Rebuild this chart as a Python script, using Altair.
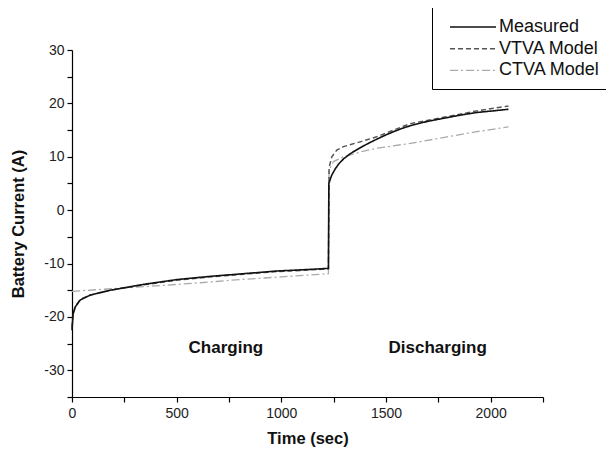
import altair as alt
import pandas as pd

# ---- data ----
meas_t = [0, 5, 16, 40, 88, 183, 342, 502, 661, 820, 979, 1138, 1225, 1227, 1240, 1257, 1275, 1297, 1330, 1377, 1415, 1456, 1500, 1536, 1575, 1615, 1695, 1774, 1854, 1934, 2013, 2085]
meas_v = [-22.5, -19.5, -18.1, -16.8, -15.9, -15.0, -13.9, -13.0, -12.4, -11.9, -11.4, -11.1, -10.9, 5.0, 6.5, 7.7, 8.7, 9.6, 10.6, 11.7, 12.5, 13.3, 14.1, 14.7, 15.3, 15.8, 16.6, 17.2, 17.8, 18.3, 18.6, 18.9]

vtva_t = [0, 5, 16, 40, 88, 183, 342, 502, 661, 820, 979, 1138, 1225, 1228, 1241, 1265, 1297, 1377, 1456, 1536, 1615, 1774, 1934, 2085]
vtva_v = [-22.0, -19.3, -18.0, -16.7, -15.9, -15.0, -14.0, -13.1, -12.5, -12.0, -11.5, -11.2, -11.0, 8.0, 10.0, 11.25, 11.9, 12.8, 13.75, 15.0, 16.2, 17.4, 18.6, 19.5]

ctva_t = [0, 200, 400, 613, 800, 1000, 1225, 1228, 1249, 1297, 1377, 1456, 1615, 1774, 1934, 2085]
ctva_v = [-15.2, -14.7, -14.2, -13.6, -13.0, -12.5, -11.9, 7.5, 9.1, 10.0, 10.9, 11.6, 12.5, 13.6, 14.7, 15.6]

series_names = ["Measured", "VTVA Model", "CTVA Model"]

note_text = ["Charging", "Discharging"]
note_t = [735, 1747]
note_v = [-25.9, -25.9]

x_ticks = list(range(0, 2251, 250))
y_ticks = list(range(-35, 31, 5))

rows = []
for name, ts, vs in [("CTVA Model", ctva_t, ctva_v), ("VTVA Model", vtva_t, vtva_v), ("Measured", meas_t, meas_v)]:
    for i, (t, v) in enumerate(zip(ts, vs)):
        rows.append({"series": name, "t": t, "v": v, "i": i})
df = pd.DataFrame(rows)
notes = pd.DataFrame({"text": note_text, "t": note_t, "v": note_v})

FONT = "Liberation Sans"

x_scale = alt.Scale(domain=[0, 2250], nice=False, zero=False)
y_scale = alt.Scale(domain=[-35, 30], nice=False, zero=False)

x_enc = alt.X("t:Q", scale=x_scale,
              axis=alt.Axis(title="Time (sec)", values=x_ticks,
                            labelExpr="datum.value % 500 == 0 ? toString(datum.value) : ''",
                            grid=False, tickSize=5, labelPadding=4, titlePadding=10,
                            labelFlush=False, labelOverlap=False))
y_enc = alt.Y("v:Q", scale=y_scale,
              axis=alt.Axis(title="Battery Current (A)", values=y_ticks,
                            labelExpr="abs(datum.value) % 10 == 0 ? toString(datum.value) : ''",
                            grid=False, tickSize=5, labelPadding=3, titlePadding=17,
                            labelFlush=False, labelOverlap=False))

lines = alt.Chart(df).mark_line(interpolate="linear").encode(
    x=x_enc,
    y=y_enc,
    order="i:Q",
    color=alt.Color("series:N",
                    scale=alt.Scale(domain=series_names, range=["#111111", "#555555", "#aaaaaa"]),
                    legend=alt.Legend(title=None, orient="none", legendX=360, legendY=-43,
                                      fillColor="white", strokeColor="black", padding=9,
                                      symbolType="M-0.2,0H4.4", symbolSize=400, symbolStrokeWidth=1.3,
                                      labelFontSize=18, labelFont=FONT, labelColor="#111",
                                      labelOffset=36, rowPadding=1.7)),
    strokeDash=alt.StrokeDash("series:N",
                              scale=alt.Scale(domain=series_names, range=[[1, 0], [5, 3], [8, 3, 2, 3]]),
                              legend=None),
    strokeWidth=alt.StrokeWidth("series:N",
                                scale=alt.Scale(domain=series_names, range=[1.6, 1.3, 1.3]),
                                legend=None),
)

text = alt.Chart(notes).mark_text(font=FONT, fontSize=17, fontWeight="bold", color="#111").encode(
    x=x_enc,
    y=y_enc,
    text="text:N",
)

chart = alt.layer(lines, text).properties(
    width=471, height=347,
    autosize=alt.AutoSizeParams(type="none"),
    padding={"left": 64, "top": 42, "right": 63, "bottom": 56},
).configure_view(stroke=None).configure_axis(
    domainColor="black", tickColor="black", labelColor="#222", labelFont=FONT,
    labelFontSize=14, titleFont=FONT, titleFontSize=16.5, titleFontWeight="bold",
    titleColor="#111", domainWidth=1.2, tickWidth=1.2
)

chart.save("out.html", embed_options={"renderer": "svg", "actions": False})
